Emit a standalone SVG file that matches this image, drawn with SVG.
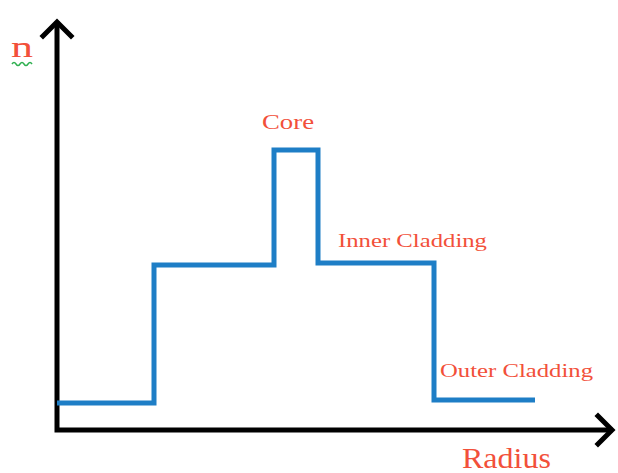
<svg xmlns="http://www.w3.org/2000/svg" width="618" height="473" viewBox="0 0 618 473">
<style>
.axis{fill:none;stroke:#000;stroke-width:5;stroke-linecap:square;stroke-linejoin:miter}
.prof{fill:none;stroke:#1e7ec6;stroke-width:5;stroke-linejoin:miter}
.lbl{font-family:"Liberation Serif",serif;fill:#f2503a}
</style>
<rect width="618" height="473" fill="#fff"/>
<g id="connectors">
<path class="axis" d="M57,24 V430 H610"/>
<path class="axis" d="M43,36 L57,22 L71,36"/>
<path class="axis" d="M598,416 L612,430 L598,444"/>
</g>
<g id="profile">
<path class="prof" d="M57,403 H154 V265 H274 V150 H318 V263 H434 V400 H535"/>
</g>
<g id="n-label">
<text class="lbl" x="11" y="57" font-size="30" textLength="22" lengthAdjust="spacingAndGlyphs">n</text>
<path d="M12,64 q2,-3 4,0 t4,0 t4,0 t4,0 t4,0" fill="none" stroke="#2fb050" stroke-width="1.5"/>
</g>
<g id="core"><text class="lbl" x="262" y="129" font-size="22" textLength="52" lengthAdjust="spacingAndGlyphs">Core</text></g>
<g id="inner"><text class="lbl" x="338" y="247" font-size="19" textLength="149" lengthAdjust="spacingAndGlyphs">Inner Cladding</text></g>
<g id="outer"><text class="lbl" x="440" y="377" font-size="19" textLength="153" lengthAdjust="spacingAndGlyphs">Outer Cladding</text></g>
<g id="radius"><text class="lbl" x="462" y="468" font-size="29" textLength="89" lengthAdjust="spacingAndGlyphs">Radius</text></g>
</svg>
